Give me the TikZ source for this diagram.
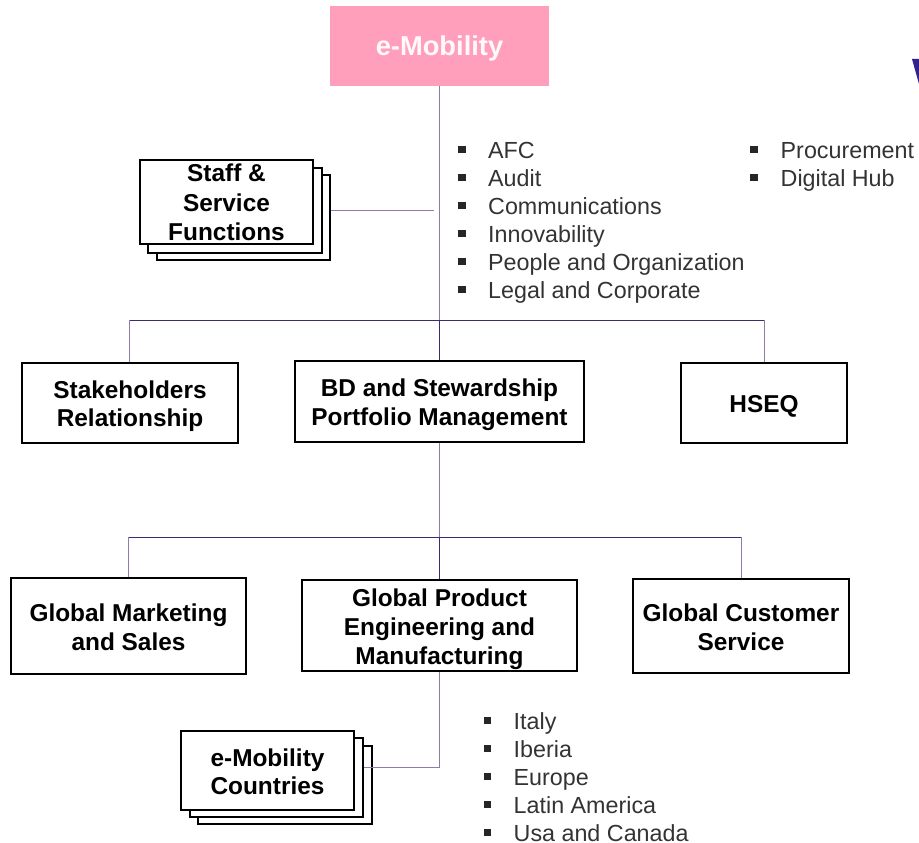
\documentclass[tikz,border=0pt]{standalone}
\usepackage{fontspec}
\setmainfont{Liberation Sans}
\definecolor{lightline}{HTML}{8E7BA8}
\definecolor{darkline}{HTML}{3F2A70}
\definecolor{pinkbox}{HTML}{FF9FBC}
\definecolor{listgrey}{HTML}{333333}
\newcommand{\lowerby}[1]{\rule{0pt}{#1pt}}
\tikzset{
  orgbox/.style={draw=black,line width=2.3pt,fill=white,inner sep=0pt,align=center,
    font=\fontsize{24.4}{28.5}\selectfont\bfseries},
  backbox/.style={draw=black,line width=2.3pt,fill=white},
  lightconn/.style={draw=lightline,line width=1pt},
  darkconn/.style={draw=darkline,line width=1pt},
  listitem/.style={anchor=base west,inner sep=0pt,text=listgrey,font=\fontsize{23.3}{28}\selectfont},
  bulletmark/.style={fill=black!85,minimum size=7.5pt,inner sep=0pt,anchor=center}
}
\begin{document}
\begin{tikzpicture}[x=1pt,y=-1pt]
\useasboundingbox (0,0) rectangle (919,843);
% stray fragment at the right edge
\fill[fill=darkline!80!blue] (912,59) -- (919,59) -- (919,84) -- cycle;
% top box
\node[fill=pinkbox,minimum width=219pt,minimum height=80pt,inner sep=0pt,text=white!92!pink,
  font=\fontsize{27.3}{30}\selectfont\bfseries] (top) at (439.5,46) {\lowerby{25.5}e-Mobility};
% second row
\node[orgbox,minimum width=216pt,minimum height=80pt] (stake) at (130,403) {\lowerby{23.8}Stakeholders\\Relationship};
\node[orgbox,minimum width=289pt,minimum height=81pt] (bd) at (439.5,401.5) {\lowerby{23.8}BD and Stewardship\\Portfolio Management};
\node[orgbox,minimum width=166pt,minimum height=80pt] (hseq) at (764,403) {\lowerby{24}HSEQ};
% third row
\node[orgbox,minimum width=235pt,minimum height=96pt] (mkt) at (128.5,626) {\lowerby{19.8}Global Marketing\\and Sales};
\node[orgbox,minimum width=275pt,minimum height=91pt,font=\fontsize{24.4}{29}\selectfont\bfseries] (prod) at (439.5,625.5) {\lowerby{24.3}Global Product\\Engineering and\\Manufacturing};
\node[orgbox,minimum width=216pt,minimum height=94pt] (cust) at (741,626) {\lowerby{19.8}Global Customer\\Service};
% stacked boxes
\node[backbox,minimum width=173pt,minimum height=85pt,inner sep=0pt] (staffc) at (243.5,217.5) {};
\node[backbox,minimum width=174pt,minimum height=85pt,inner sep=0pt] (staffb) at (235,210.5) {};
\node[orgbox,minimum width=173pt,minimum height=84pt,font=\fontsize{24.4}{29.5}\selectfont\bfseries] (staff) at (226.5,202) {\lowerby{18.5}Staff \&\\Service\\Functions};
\node[backbox,minimum width=174pt,minimum height=78pt,inner sep=0pt] (ctryc) at (285,785) {};
\node[backbox,minimum width=173pt,minimum height=79pt,inner sep=0pt] (ctryb) at (276.5,777.5) {};
\node[orgbox,minimum width=173pt,minimum height=79pt] (ctry) at (267.5,770.5) {\lowerby{19.8}e-Mobility\\Countries};
% connectors
\coordinate (j1) at (439,320);
\coordinate (j2) at (439,537);
\coordinate (l1) at (129,320);
\coordinate (r1) at (764,320);
\coordinate (l2) at (128,537);
\coordinate (r2) at (741,537);
\coordinate (sf) at (434,210);
\coordinate (ce) at (439,767);
\draw[lightconn] (top.south -| j1) -- (j1);
\draw[darkconn] (j1) -- (bd.north -| j1);
\draw[lightconn] (staffc.east |- sf) -- (sf);
\draw[darkconn] (l1) -- (r1);
\draw[lightconn] (l1) -- (stake.north -| l1);
\draw[lightconn] (r1) -- (hseq.north -| r1);
\draw[lightconn] (bd.south -| j2) -- (j2);
\draw[darkconn] (j2) -- (prod.north -| j2);
\draw[darkconn] (l2) -- (r2);
\draw[lightconn] (l2) -- (mkt.north -| l2);
\draw[lightconn] (r2) -- (cust.north -| r2);
\draw[lightconn] (prod.south -| ce) -- (ce) -- (ctryb.east |- ce);
% first list
\foreach \y/\t in {158/AFC,186/Audit,214/Communications,242/Innovability,270/People and Organization,298/Legal and Corporate}{
  \node[bulletmark] at (462,\y-8.5) {};
  \node[listitem] at (488,\y) {\t};
}
% second list
\foreach \y/\t in {158/Procurement,186/Digital Hub}{
  \node[bulletmark] at (754,\y-8.5) {};
  \node[listitem] at (780.5,\y) {\t};
}
% third list
\foreach \y/\t in {729/Italy,757/Iberia,785/Europe,813/Latin America,841/Usa and Canada}{
  \node[bulletmark] at (487.5,\y-8.5) {};
  \node[listitem] at (513.5,\y) {\t};
}
\end{tikzpicture}
\end{document}
